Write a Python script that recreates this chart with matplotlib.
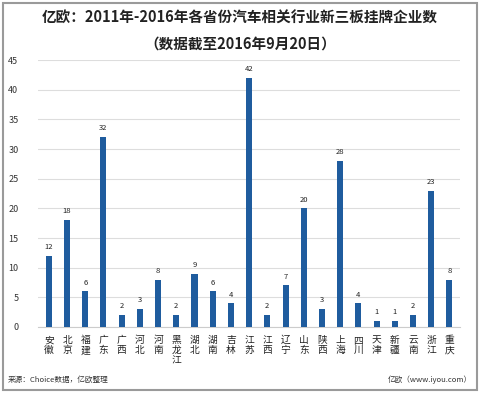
import matplotlib
matplotlib.use("Agg")
import matplotlib.pyplot as plt
from matplotlib.patches import Rectangle

plt.rcParams['font.family'] = ['Noto Sans CJK SC', 'DejaVu Sans']

# data
provinces = ['安徽', '北京', '福建', '广东', '广西', '河北', '河南', '黑龙江', '湖北', '湖南',
             '吉林', '江苏', '江西', '辽宁', '山东', '陕西', '上海', '四川', '天津', '新疆',
             '云南', '浙江', '重庆']
counts = [12, 18, 6, 32, 2, 3, 8, 2, 9, 6, 4, 42, 2, 7, 20, 3, 28, 4, 1, 1, 2, 23, 8]
yticks = [0, 5, 10, 15, 20, 25, 30, 35, 40, 45]

bar_color = '#1f5c9e'

fig = plt.figure(figsize=(4.8, 3.93), dpi=100)
fig.patch.set_facecolor('white')

# outer frame
fig.patches.append(Rectangle((0.006, 0.008), 0.988, 0.984, transform=fig.transFigure,
                             fill=False, edgecolor='#9a9a9a', linewidth=1.5))

ax = fig.add_axes([0.079, 0.168, 0.88, 0.679])
x = range(len(provinces))
bars = ax.bar(x, counts, width=0.33, color=bar_color, zorder=3)

for xi, v in zip(x, counts):
    ax.text(xi, v + 0.8, str(v), ha='center', va='bottom', fontsize=5.5, color='#222222')

ax.set_ylim(0, 45)
ax.set_xlim(-0.6, len(provinces) - 0.4)
ax.set_yticks(yticks)
ax.set_yticklabels([str(t) for t in yticks], fontsize=6.5, color='#333333')
ax.yaxis.grid(True, color='#dddddd', linewidth=0.8, zorder=0)
ax.set_xticks(list(x))
ax.set_xticklabels(['\n'.join(p) for p in provinces], fontsize=7, color='#222222',
                   linespacing=1.0, va='top')
ax.tick_params(axis='x', length=0, pad=6)
ax.tick_params(axis='y', length=0, pad=14)
for s in ['top', 'right', 'left']:
    ax.spines[s].set_visible(False)
ax.spines['bottom'].set_color('#cccccc')

fig.text(0.5, 0.955, '亿欧：2011年-2016年各省份汽车相关行业新三板挂牌企业数',
         ha='center', va='center', fontsize=10.5, fontweight='bold', color='#222222')
fig.text(0.5, 0.89, '（数据截至2016年9月20日）',
         ha='center', va='center', fontsize=10.5, fontweight='bold', color='#222222')

fig.text(0.017, 0.033, '来源：Choice数据，亿欧整理', ha='left', va='center',
         fontsize=5.5, color='#333333')
fig.text(0.983, 0.033, '亿欧（www.iyou.com）', ha='right', va='center',
         fontsize=5.5, color='#333333')

fig.savefig('out.png', dpi=100)
